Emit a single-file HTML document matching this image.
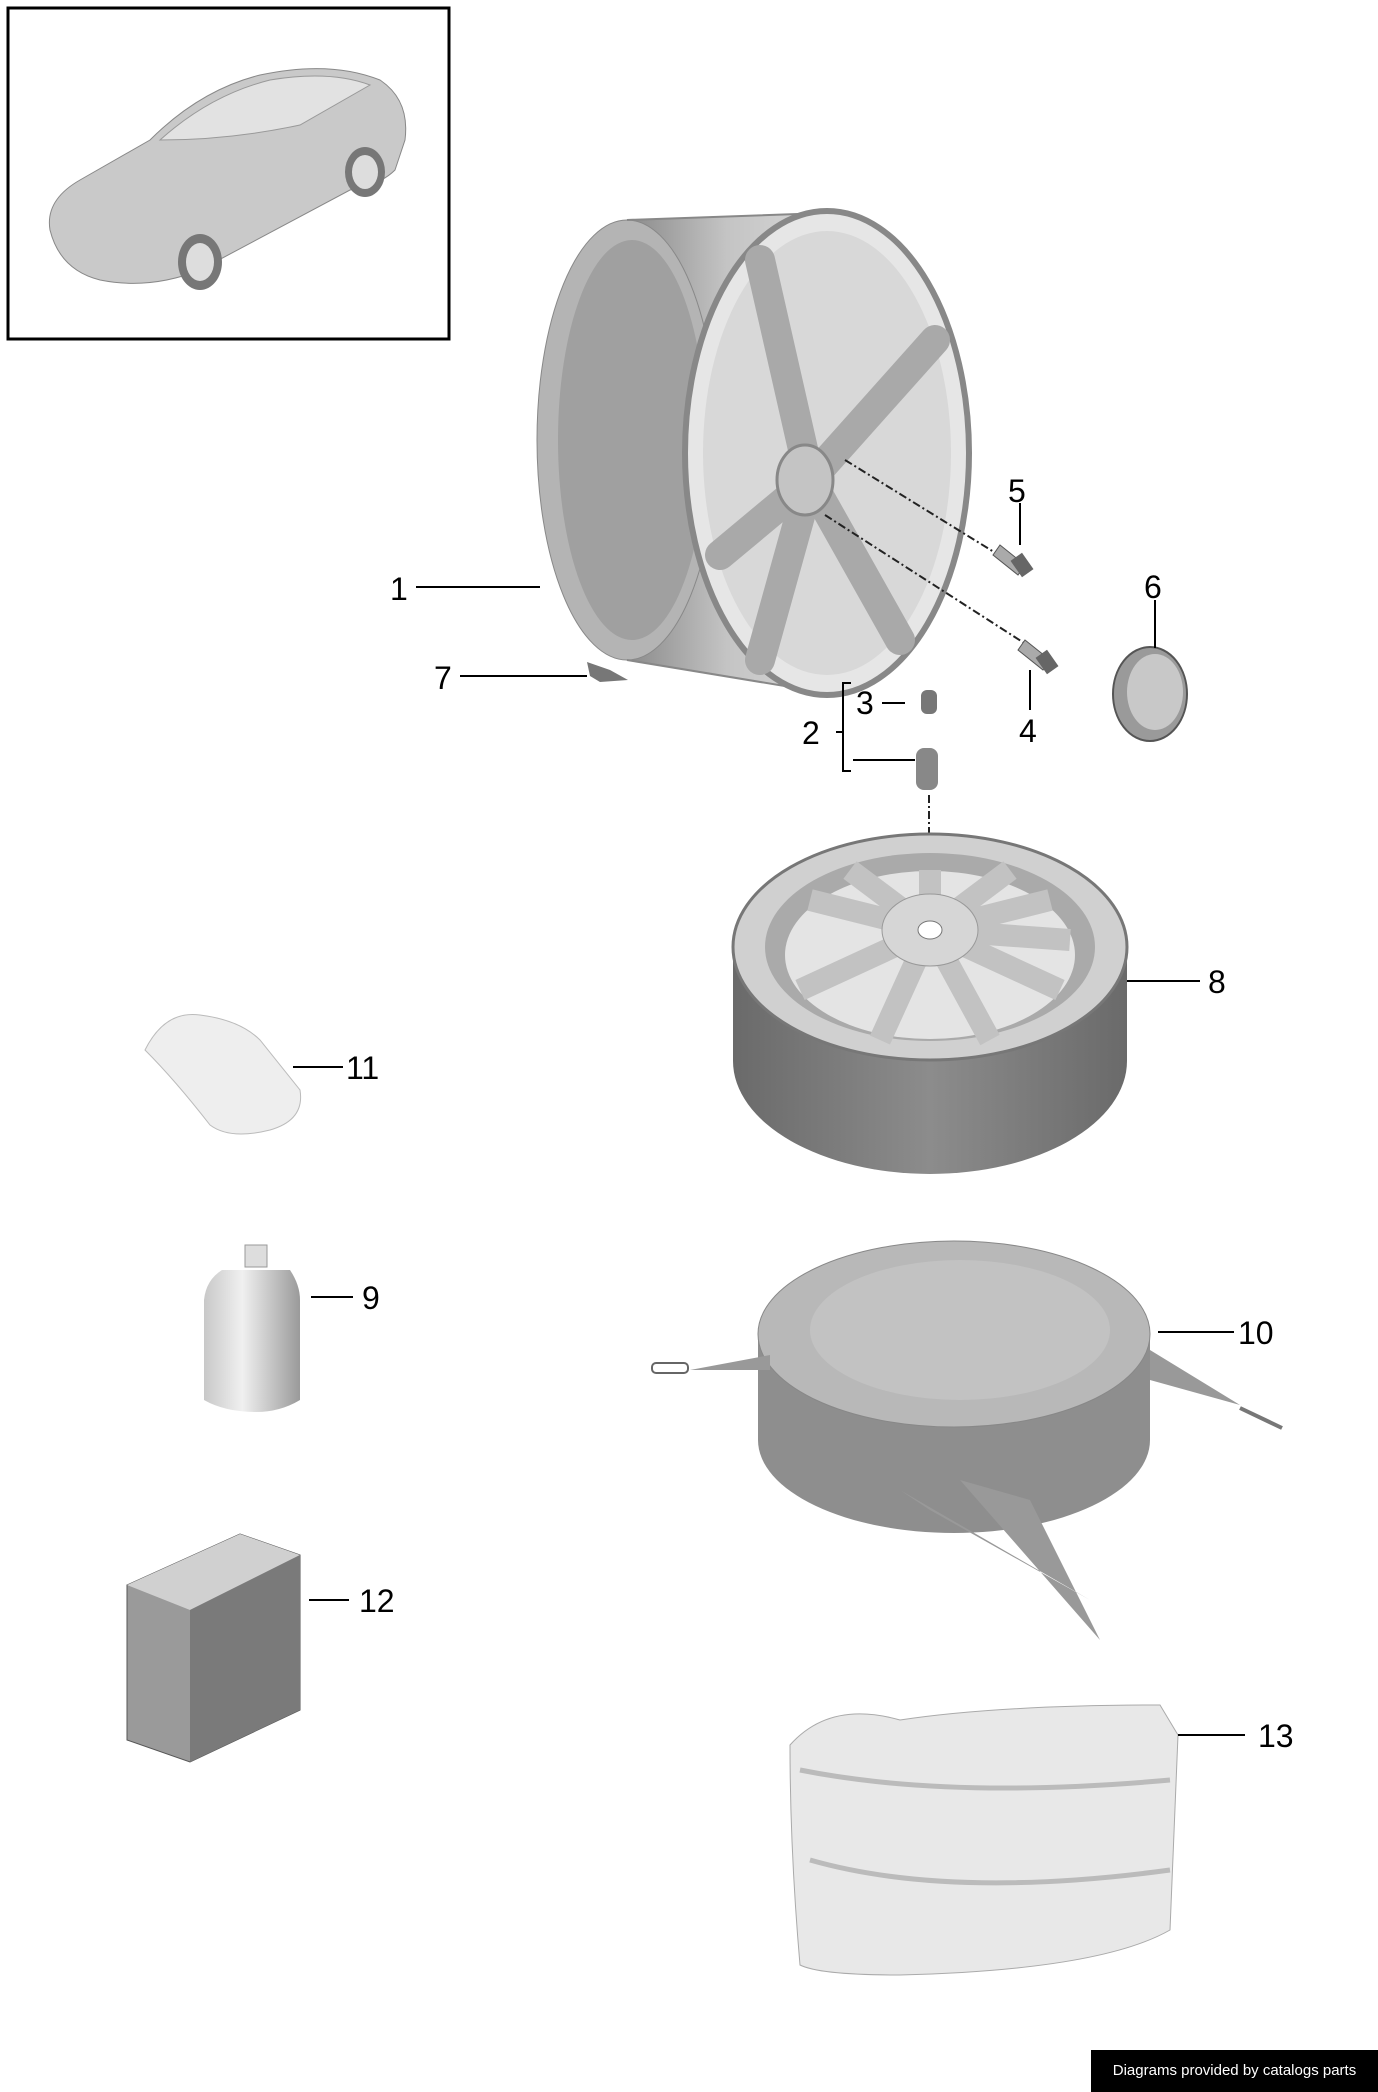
<!DOCTYPE html>
<html><head><meta charset="utf-8"><style>
html,body{margin:0;padding:0;background:#fff;width:1378px;height:2092px;overflow:hidden;font-family:"Liberation Sans",sans-serif}
svg{position:absolute;left:0;top:0}
.foot{position:absolute;left:1091px;top:2050px;width:287px;height:42px;background:#000;color:#fff;font-size:15px;line-height:42px;text-align:center}
</style></head><body>
<svg width="1378" height="2092" viewBox="0 0 1378 2092">
<defs>
<linearGradient id="bar" x1="0" x2="1" y1="0" y2="0"><stop offset="0" stop-color="#8a8a8a"/><stop offset="0.5" stop-color="#c4c4c4"/><stop offset="1" stop-color="#d8d8d8"/></linearGradient>
<linearGradient id="tire" x1="0" x2="1"><stop offset="0" stop-color="#6a6a6a"/><stop offset="0.5" stop-color="#8c8c8c"/><stop offset="1" stop-color="#6a6a6a"/></linearGradient>
<linearGradient id="bot" x1="0" x2="1"><stop offset="0" stop-color="#c8c8c8"/><stop offset="0.4" stop-color="#f0f0f0"/><stop offset="1" stop-color="#9a9a9a"/></linearGradient>
</defs>
<rect x="8" y="8" width="441" height="331" fill="#fff" stroke="#000" stroke-width="3"/>
<!-- car -->
<path d="M50 230 Q45 200 80 180 L150 140 Q200 90 260 75 Q330 60 380 80 Q410 100 405 140 L395 170 Q380 185 350 190 L200 270 Q150 290 100 280 Q60 270 50 230Z" fill="#c9c9c9" stroke="#888"/>
<path d="M160 140 Q210 95 270 80 Q330 70 370 85 L300 125 Q230 140 160 140Z" fill="#e2e2e2" stroke="#999"/>
<ellipse cx="200" cy="262" rx="22" ry="28" fill="#777"/><ellipse cx="365" cy="172" rx="20" ry="25" fill="#777"/>
<ellipse cx="200" cy="262" rx="14" ry="19" fill="#ddd"/><ellipse cx="365" cy="172" rx="13" ry="17" fill="#ddd"/>
<!-- wheel 1 -->
<path d="M627 220 L827 213 L827 693 L627 660Z" fill="url(#bar)"/>
<ellipse cx="627" cy="440" rx="90" ry="220" fill="#b4b4b4" stroke="#888"/>
<ellipse cx="632" cy="440" rx="74" ry="200" fill="#a0a0a0"/>
<path d="M627 220 L827 213 M627 660 L827 693" stroke="#888" stroke-width="2"/>
<ellipse cx="827" cy="453" rx="142" ry="242" fill="#e6e6e6" stroke="#888" stroke-width="6"/>
<ellipse cx="827" cy="453" rx="124" ry="222" fill="#d8d8d8"/>
<g stroke="#a9a9a9" stroke-width="30" stroke-linecap="round">
<line x1="810" y1="480" x2="760" y2="260"/><line x1="810" y1="480" x2="935" y2="340"/><line x1="810" y1="480" x2="720" y2="555"/><line x1="810" y1="480" x2="760" y2="660"/><line x1="810" y1="480" x2="900" y2="640"/>
</g>
<ellipse cx="805" cy="480" rx="28" ry="35" fill="#c4c4c4" stroke="#888" stroke-width="3"/>
<path d="M845 460 L1015 565 M825 515 L1035 650" stroke="#222" stroke-width="2" stroke-dasharray="8 3 2 3"/>
<!-- bolts -->
<path d="M1000 545 L1025 565 L1018 575 L993 555Z" fill="#aaa" stroke="#555"/><rect x="1015" y="555" width="14" height="20" fill="#666" transform="rotate(-35 1022 565)"/>
<path d="M1025 640 L1050 660 L1043 670 L1018 650Z" fill="#aaa" stroke="#555"/><rect x="1040" y="652" width="14" height="20" fill="#666" transform="rotate(-35 1047 662)"/>
<!-- cap 6 -->
<ellipse cx="1150" cy="694" rx="37" ry="47" fill="#9a9a9a" stroke="#555" stroke-width="2"/>
<ellipse cx="1155" cy="692" rx="28" ry="38" fill="#c8c8c8"/>
<!-- weight 7 -->
<path d="M587 662 L610 670 L628 680 L600 682 L590 676Z" fill="#777"/>
<!-- valve 2/3 -->
<rect x="921" y="690" width="16" height="24" rx="6" fill="#777"/>
<rect x="916" y="748" width="22" height="42" rx="8" fill="#888"/>
<path d="M929 795 L929 870" stroke="#222" stroke-width="2" stroke-dasharray="8 3 2 3"/>
<path d="M851 683 L843 683 L843 771 L851 771 M843 732 L836 732 M882 703 L905 703 M853 760 L915 760" stroke="#000" stroke-width="2" fill="none"/>
<!-- spare wheel 8 -->
<path d="M733 947 L733 1061 A197 113 0 0 0 1127 1061 L1127 947Z" fill="url(#tire)"/>
<ellipse cx="930" cy="947" rx="197" ry="113" fill="#d0d0d0" stroke="#777" stroke-width="3"/>
<ellipse cx="930" cy="947" rx="165" ry="94" fill="#aaa"/>
<ellipse cx="930" cy="955" rx="145" ry="84" fill="#e4e4e4"/>
<g stroke="#c2c2c2" stroke-width="22"><line x1="930" y1="930" x2="930" y2="870"/><line x1="930" y1="930" x2="1050" y2="900"/><line x1="930" y1="930" x2="810" y2="900"/><line x1="930" y1="930" x2="800" y2="990"/><line x1="930" y1="930" x2="1060" y2="990"/><line x1="930" y1="930" x2="880" y2="1040"/><line x1="930" y1="930" x2="990" y2="1040"/><line x1="930" y1="930" x2="1010" y2="870"/><line x1="930" y1="930" x2="850" y2="870"/><line x1="930" y1="930" x2="1070" y2="940"/></g>
<ellipse cx="930" cy="930" rx="48" ry="36" fill="#d6d6d6" stroke="#999"/>
<ellipse cx="930" cy="930" rx="12" ry="9" fill="#fff" stroke="#777"/>
<!-- bag 10 -->
<path d="M758 1334 L758 1440 A196 93 0 0 0 1150 1440 L1150 1334Z" fill="#8e8e8e"/>
<ellipse cx="954" cy="1334" rx="196" ry="93" fill="#b8b8b8" stroke="#888"/>
<ellipse cx="960" cy="1330" rx="150" ry="70" fill="#c2c2c2"/>
<path d="M690 1370 L770 1355 L770 1370Z M1150 1350 L1240 1405 L1150 1380Z M960 1480 L1100 1640 L1030 1500Z M900 1490 L1090 1600 L930 1510Z" fill="#999"/>
<path d="M1240 1408 L1282 1428" stroke="#777" stroke-width="4"/>
<rect x="652" y="1363" width="36" height="10" rx="4" fill="none" stroke="#666" stroke-width="2"/>
<!-- glove 11 -->
<path d="M145 1050 Q165 1010 200 1015 Q240 1020 260 1040 L300 1090 Q305 1120 270 1130 Q230 1140 210 1125 Q175 1080 145 1050Z" fill="#eee" stroke="#bbb"/>
<!-- bottle 9 -->
<rect x="245" y="1245" width="22" height="22" fill="#ddd" stroke="#999"/>
<path d="M222 1270 L290 1270 Q300 1285 300 1300 L300 1400 Q280 1412 256 1412 Q225 1412 204 1400 L204 1300 Q206 1280 222 1270Z" fill="url(#bot)"/>
<!-- box 12 -->
<path d="M127 1585 L240 1534 L300 1555 L300 1710 L190 1762 L127 1740Z" fill="#9a9a9a" stroke="#555"/>
<path d="M127 1585 L240 1534 L300 1555 L190 1610Z" fill="#d0d0d0"/>
<path d="M190 1610 L300 1555 L300 1710 L190 1762Z" fill="#7a7a7a"/>
<!-- bag 13 -->
<path d="M790 1745 Q830 1700 900 1720 Q1000 1705 1160 1705 L1178 1735 L1170 1930 Q1100 1970 900 1975 Q820 1975 800 1965 Q790 1850 790 1745Z" fill="#e8e8e8" stroke="#aaa"/>
<path d="M800 1770 Q950 1800 1170 1780 M810 1860 Q950 1900 1170 1870" stroke="#bbb" stroke-width="5" fill="none"/>
<!-- leader lines -->
<g stroke="#000" stroke-width="2">
<line x1="416" y1="587" x2="540" y2="587"/><line x1="460" y1="676" x2="587" y2="676"/>
<line x1="1020" y1="503" x2="1020" y2="545"/><line x1="1155" y1="600" x2="1155" y2="648"/>
<line x1="1030" y1="670" x2="1030" y2="710"/>
<line x1="1127" y1="981" x2="1200" y2="981"/><line x1="293" y1="1067" x2="343" y2="1067"/>
<line x1="311" y1="1297" x2="353" y2="1297"/><line x1="1158" y1="1332" x2="1234" y2="1332"/>
<line x1="309" y1="1600" x2="349" y2="1600"/><line x1="1178" y1="1735" x2="1245" y2="1735"/>
</g>
<g font-family="Liberation Sans, sans-serif" font-size="32" fill="#000">
<text x="390" y="600">1</text><text x="434" y="689">7</text><text x="1008" y="502">5</text><text x="1144" y="598">6</text>
<text x="1019" y="742">4</text><text x="802" y="744">2</text><text x="856" y="714">3</text><text x="1208" y="993">8</text>
<text x="346" y="1079">11</text><text x="362" y="1309">9</text><text x="1238" y="1344">10</text>
<text x="359" y="1612">12</text><text x="1258" y="1747">13</text>
</g>
</svg>
<div class="foot">Diagrams provided by catalogs parts</div>
</body></html>
